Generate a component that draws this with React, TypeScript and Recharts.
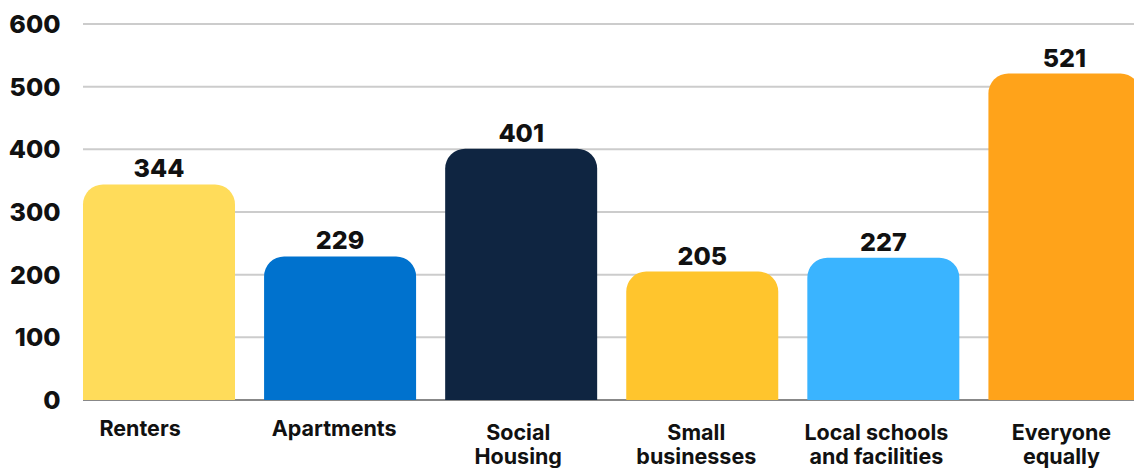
import { BarChart, Bar, XAxis, YAxis, CartesianGrid, Cell, LabelList } from 'recharts';

const categories = ['Renters', 'Apartments', 'Social Housing', 'Small businesses', 'Local schools and facilities', 'Everyone equally'];
const labelLines = [
  ['Renters'],
  ['Apartments'],
  ['Social', 'Housing'],
  ['Small', 'businesses'],
  ['Local schools', 'and facilities'],
  ['Everyone', 'equally'],
];
const counts = [344, 229, 401, 205, 227, 521];
const barColors = ['#FFDC5A', '#0072CE', '#0F2541', '#FFC52D', '#3AB4FF', '#FFA31A'];
const yTicks = [0, 100, 200, 300, 400, 500, 600];

// the category labels in the original sit slightly left of the bar centres
const tickShift = [-19, -6, -3, -6, -7, -3];

const FONT = 'Inter, Lato, sans-serif';

const chartData = categories.map((name, i) => ({
  name,
  count: counts[i],
}));

const CategoryTick = ({ x, y, payload, index }: any) => {
  const lines = labelLines[index] || [payload.value];
  const single = lines.length === 1;
  return (
    <g transform={`translate(${x},${y})`}>
      {lines.map((line: string, i: number) => (
        <text
          key={i}
          x={tickShift[index] || 0}
          y={(single ? 28 : 32) + i * 24}
          textAnchor="middle"
          fill="#111"
          fontFamily={FONT}
          fontWeight={700}
          fontSize={21.5}
        >
          {line}
        </text>
      ))}
    </g>
  );
};

export default function App() {
  return (
    <div style={{ width: 1134, height: 468, overflow: 'hidden', position: 'relative' }}>
      <style>{'body{margin:0}'}</style>
      <BarChart
        width={1160}
        height={468}
        data={chartData}
        margin={{ top: 24, right: 5, left: 0, bottom: 0 }}
        barCategoryGap={14.5}
      >
        <CartesianGrid vertical={false} stroke="#cccccc" strokeWidth={2} x={83} width={1100} />
        <CartesianGrid vertical={false} horizontalValues={[0]} stroke="#888888" strokeWidth={2} x={83} width={1100} />
        <XAxis
          dataKey="name"
          axisLine={false}
          tickLine={false}
          interval={0}
          height={68}
          tick={<CategoryTick />}
        />
        <YAxis
          domain={[0, 600]}
          ticks={yTicks}
          width={68.5}
          axisLine={false}
          tickLine={false}
          tickMargin={2}
          tick={{ fill: '#111', fontSize: 25, fontWeight: 800, fontFamily: FONT }}
        />
        <Bar dataKey="count" radius={[20, 20, 0, 0]} isAnimationActive={false}>
          {chartData.map((d, i) => (
            <Cell key={d.name} fill={barColors[i]} />
          ))}
          <LabelList
            dataKey="count"
            position="top"
            offset={7}
            fill="#111"
            fontSize={25}
            fontWeight={800}
            fontFamily={FONT}
          />
        </Bar>
      </BarChart>
    </div>
  );
}
